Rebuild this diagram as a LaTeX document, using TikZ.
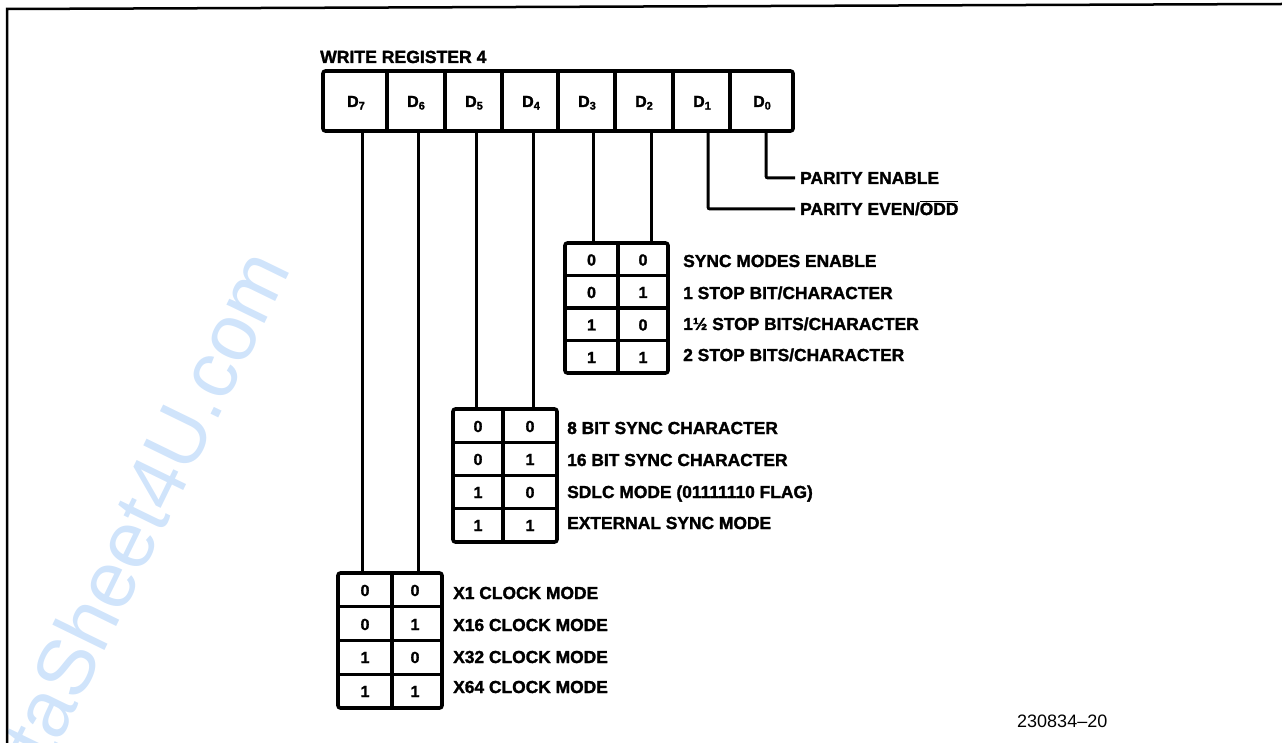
\documentclass[tikz,border=0pt]{standalone}
\usepackage{fontspec}
\setmainfont{Liberation Sans}
\newfontfamily\heavy[FakeBold=1.6]{Liberation Sans}
\definecolor{wmblue}{RGB}{208,228,251}
\begin{document}
\begin{tikzpicture}[x=1pt,y=-1pt,
  wire/.style={line width=3pt, rounded corners=2pt},
  tbl/.style={draw, line width=3.6pt, rounded corners=2.5pt, inner sep=0pt, outer sep=0pt},
  grid/.style={line width=3.2pt},
  lab/.style={anchor=base west, inner sep=0pt, font=\heavy\bfseries\fontsize{17.4}{17.4}\selectfont},
  bit/.style={anchor=base, inner sep=0pt, font=\heavy\bfseries\fontsize{16}{16}\selectfont},
  dlab/.style={anchor=base, inner sep=0pt, font=\heavy\bfseries\fontsize{16}{16}\selectfont},
  foot/.style={anchor=base west, inner sep=0pt, font=\fontsize{18}{18}\selectfont},
  wm/.style={anchor=base east, inner sep=0pt, rotate=64, text=wmblue, font=\fontsize{80}{80}\selectfont}
  ]
\useasboundingbox (0,0) rectangle (1282,743);
% watermark
\node[wm] (wmark) at (292,268) {DataSheet4U.com};
% page frame
\draw[line width=2.5pt] (7,743) -- (7,9) -- (1282,4);

% title
\node[lab, font=\heavy\bfseries\fontsize{17.6}{17.6}\selectfont] (title) at (320,63) {WRITE REGISTER 4};

% register
\node[tbl, minimum width=470pt, minimum height=60pt] (reg) at (558,101) {};
\foreach \x in {387,445,502,558,615,673,730} \draw[grid] (\x,71) -- (\x,131);
\newcommand\dsub[1]{D\raisebox{-0.3ex}{\fontsize{11}{11}\selectfont #1}}
\node[dlab] (d7) at (356,107) {\dsub{7}};
\node[dlab] (d6) at (416,107) {\dsub{6}};
\node[dlab] (d5) at (474,107) {\dsub{5}};
\node[dlab] (d4) at (531,107) {\dsub{4}};
\node[dlab] (d3) at (587,107) {\dsub{3}};
\node[dlab] (d2) at (644,107) {\dsub{2}};
\node[dlab] (d1) at (702,107) {\dsub{1}};
\node[dlab] (d0) at (762,107) {\dsub{0}};

\foreach \n/\x in {7/362,6/418,5/476,4/533,3/593,2/651,1/708,0/766}
  \coordinate (p\n) at (\x,131);

% D0, D1 leads
\coordinate (e0) at (795,178);
\coordinate (e1) at (795,209);
\draw[wire] (p0) |- (e0);
\draw[wire] (p1) |- (e1);
\node[lab] (pe) at (800,184) {PARITY ENABLE};
\node[lab] (po) at (800,215) {PARITY EVEN/$\overline{\hbox{ODD}}$};

% table 1 (D3 D2)
\node[tbl, minimum width=103pt, minimum height=130pt] (t1) at (616.5,308) {};
\draw[grid] (618,243) -- (618,373);
\foreach \i in {1,2,3} \draw[grid] (565,{243+32.5*\i}) -- (668,{243+32.5*\i});
\draw[wire] (p3) -- (p3 |- t1.north);
\draw[wire] (p2) -- (p2 |- t1.north);
\node[bit] (t1a0) at (591.5,265.5) {0}; \node[bit] (t1b0) at (643,265.5) {0};
\node[bit] (t1a1) at (591.5,298) {0};   \node[bit] (t1b1) at (643,298) {1};
\node[bit] (t1a2) at (591.5,330.5) {1}; \node[bit] (t1b2) at (643,330.5) {0};
\node[bit] (t1a3) at (591.5,363) {1};   \node[bit] (t1b3) at (643,363) {1};
\node[lab] (t1l0) at (683,267) {SYNC MODES ENABLE};
\node[lab] (t1l1) at (683,299) {1 STOP BIT/CHARACTER};
\node[lab] (t1l2) at (683,330) {1½ STOP BITS/CHARACTER};
\node[lab] (t1l3) at (683,361) {2 STOP BITS/CHARACTER};

% table 2 (D5 D4)
\node[tbl, minimum width=104pt, minimum height=133pt] (t2) at (505,475.5) {};
\draw[grid] (503,409) -- (503,542);
\foreach \i in {1,2,3} \draw[grid] (453,{409+33.25*\i}) -- (557,{409+33.25*\i});
\draw[wire] (p5) -- (p5 |- t2.north);
\draw[wire] (p4) -- (p4 |- t2.north);
\node[bit] (t2a0) at (478,432) {0}; \node[bit] (t2b0) at (530,432) {0};
\node[bit] (t2a1) at (478,465) {0}; \node[bit] (t2b1) at (530,465) {1};
\node[bit] (t2a2) at (478,498) {1}; \node[bit] (t2b2) at (530,498) {0};
\node[bit] (t2a3) at (478,531) {1}; \node[bit] (t2b3) at (530,531) {1};
\node[lab] (t2l0) at (567,434) {8 BIT SYNC CHARACTER};
\node[lab] (t2l1) at (567,466) {16 BIT SYNC CHARACTER};
\node[lab] (t2l2) at (567,498) {SDLC MODE (01111110 FLAG)};
\node[lab] (t2l3) at (567,529) {EXTERNAL SYNC MODE};

% table 3 (D7 D6)
\node[tbl, minimum width=104pt, minimum height=135pt] (t3) at (390,640.5) {};
\draw[grid] (392,573) -- (392,708);
\foreach \i in {1,2,3} \draw[grid] (338,{573+33.75*\i}) -- (442,{573+33.75*\i});
\draw[wire] (p7) -- (p7 |- t3.north);
\draw[wire] (p6) -- (p6 |- t3.north);
\node[bit] (t3a0) at (365,596) {0}; \node[bit] (t3b0) at (415,596) {0};
\node[bit] (t3a1) at (365,630) {0}; \node[bit] (t3b1) at (415,630) {1};
\node[bit] (t3a2) at (365,663) {1}; \node[bit] (t3b2) at (415,663) {0};
\node[bit] (t3a3) at (365,697) {1}; \node[bit] (t3b3) at (415,697) {1};
\node[lab] (t3l0) at (453,599) {X1 CLOCK MODE};
\node[lab] (t3l1) at (453,631) {X16 CLOCK MODE};
\node[lab] (t3l2) at (453,663) {X32 CLOCK MODE};
\node[lab] (t3l3) at (453,693) {X64 CLOCK MODE};

% footer
\node[foot] (fig) at (1017,727) {230834–20};
\end{tikzpicture}
\end{document}
